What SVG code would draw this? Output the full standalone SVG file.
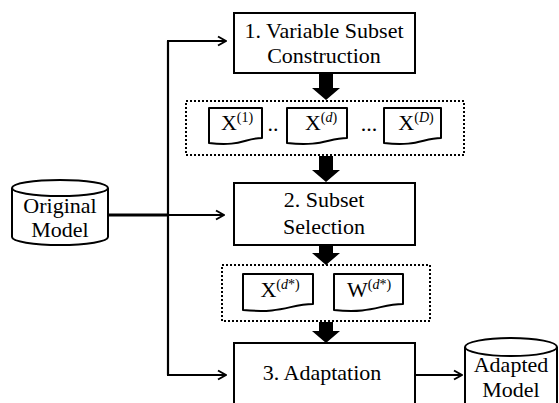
<svg xmlns="http://www.w3.org/2000/svg" width="559" height="403" viewBox="0 0 559 403">
<style>
.box{fill:#fff;stroke:#000;stroke-width:2}
.dot{fill:none;stroke:#000;stroke-width:2;stroke-dasharray:2 2}
.doc{fill:#fff;stroke:#000;stroke-width:2;stroke-linejoin:round}
.line{fill:none;stroke:#000;stroke-width:2.2}
.thick{fill:#000}
</style>
<defs>
<marker id="ah" markerUnits="userSpaceOnUse" viewBox="0 0 12 12" refX="11" refY="6" markerWidth="12" markerHeight="12" orient="auto">
<path d="M3,1.5 L11,6 L3,10.5" fill="none" stroke="#000" stroke-width="2"/>
</marker>
</defs>

<g id="connectors">
<line x1="108" y1="215" x2="168" y2="215" stroke="#000" stroke-width="3"/>
<line class="line" x1="168" y1="215" x2="224" y2="215" marker-end="url(#ah)"/>
<polyline class="line" points="168,41 168,375"/>
<line class="line" x1="167" y1="41" x2="226" y2="41" marker-end="url(#ah)"/>
<line class="line" x1="167" y1="375" x2="226" y2="375" marker-end="url(#ah)"/>
<line class="line" x1="416" y1="375" x2="462" y2="375" marker-end="url(#ah)"/>
<path class="thick" d="M319,73 H333 V88 H340 L326,100 L312,88 H319 Z"/>
<path class="thick" d="M319,156 H333 V170 H340 L326,182 L312,170 H319 Z"/>
<path class="thick" d="M319,245 H333 V253 H340 L326,265 L312,253 H319 Z"/>
<path class="thick" d="M319,322 H333 V331 H340 L326,343 L312,331 H319 Z"/>
</g>

<g id="original-model">
<path class="box" d="M12,188 V237 A48,8 0 0 0 108,237 V188"/>
<ellipse class="box" cx="60" cy="188" rx="48" ry="8"/>
<text x="60" y="213" style="font-family:'Liberation Serif',serif;font-size:22px;text-anchor:middle">Original</text>
<text x="60" y="237" style="font-family:'Liberation Serif',serif;font-size:22px;text-anchor:middle">Model</text>
</g>

<g id="step1">
<rect class="box" x="234" y="13" width="181" height="60"/>
<text x="324" y="38" style="font-family:'Liberation Serif',serif;font-size:22px;text-anchor:middle">1. Variable Subset</text>
<text x="324" y="63" style="font-family:'Liberation Serif',serif;font-size:22px;text-anchor:middle">Construction</text>
</g>

<g id="subsets">
<rect class="dot" x="186" y="101" width="278" height="54"/>
<path class="doc" d="M209,108 H262 V138 C245,138 240,147 209,143 Z"/>
<text x="237" y="130" style="font-family:'Liberation Serif',serif;font-size:22px;text-anchor:middle">X<tspan dy="-8" style="font-size:14px">(1)</tspan></text>
<text x="273" y="131" style="font-family:'Liberation Serif',serif;font-size:22px;text-anchor:middle">..</text>
<path class="doc" d="M287,108 H347 V138 C328,138 322,147 287,143 Z"/>
<text x="321" y="130" style="font-family:'Liberation Serif',serif;font-size:22px;text-anchor:middle">X<tspan dy="-8" style="font-size:14px">(<tspan style="font-style:italic">d</tspan>)</tspan></text>
<text x="369" y="131" style="font-family:'Liberation Serif',serif;font-size:22px;text-anchor:middle">...</text>
<path class="doc" d="M384,108 H441 V138 C423,138 417,147 384,143 Z"/>
<text x="416" y="130" style="font-family:'Liberation Serif',serif;font-size:22px;text-anchor:middle">X<tspan dy="-8" style="font-size:14px">(<tspan style="font-style:italic">D</tspan>)</tspan></text>
</g>

<g id="step2">
<rect class="box" x="234" y="183" width="181" height="62"/>
<text x="324" y="207" style="font-family:'Liberation Serif',serif;font-size:22px;text-anchor:middle">2. Subset</text>
<text x="324" y="234" style="font-family:'Liberation Serif',serif;font-size:22px;text-anchor:middle">Selection</text>
</g>

<g id="selected">
<rect class="dot" x="222" y="265" width="208" height="56"/>
<path class="doc" d="M243,274 H313 V304 C290,304 283,314 243,310 Z"/>
<text x="280" y="297" style="font-family:'Liberation Serif',serif;font-size:22px;text-anchor:middle">X<tspan dy="-8" style="font-size:14px">(<tspan style="font-style:italic">d</tspan>*)</tspan></text>
<path class="doc" d="M334,274 H403 V304 C380,304 373,314 334,310 Z"/>
<text x="369" y="297" style="font-family:'Liberation Serif',serif;font-size:22px;text-anchor:middle">W<tspan dy="-8" style="font-size:14px">(<tspan style="font-style:italic">d</tspan>*)</tspan></text>
</g>

<g id="step3">
<rect class="box" x="234" y="343" width="181" height="70"/>
<text x="322" y="380" style="font-family:'Liberation Serif',serif;font-size:22px;text-anchor:middle">3. Adaptation</text>
</g>

<g id="adapted-model">
<path class="box" d="M465,347 V410 H557 V347"/>
<ellipse class="box" cx="511" cy="347" rx="46" ry="9"/>
<text x="511" y="372" style="font-family:'Liberation Serif',serif;font-size:22px;text-anchor:middle">Adapted</text>
<text x="511" y="397" style="font-family:'Liberation Serif',serif;font-size:22px;text-anchor:middle">Model</text>
</g>
</svg>
